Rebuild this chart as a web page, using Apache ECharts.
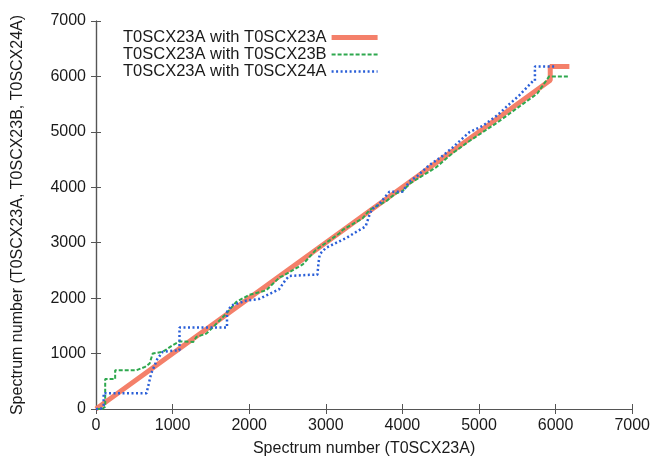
<!DOCTYPE html>
<html>
<head>
<meta charset="utf-8">
<script src="https://cdn.jsdelivr.net/npm/echarts@6/dist/echarts.min.js"></script>
<style>
html,body{margin:0;padding:0;background:#fff;}
#chart{width:653px;height:462px;}
</style>
</head>
<body>
<div id="chart"></div>
<script>
var seriesNames = ['T0SCX23A with T0SCX23A', 'T0SCX23A with T0SCX23B', 'T0SCX23A with T0SCX24A'];
var xTicks = [0, 1000, 2000, 3000, 4000, 5000, 6000, 7000];
var yTicks = [0, 1000, 2000, 3000, 4000, 5000, 6000, 7000];

var selfMatch = [[0,0],[5930,5930],[5930,6180],[6180,6180]];

var match23B = [[0,0],[80,0],[120,40],[120,540],[250,540],[250,700],[530,700],[640,760],[700,820],
  [740,1000],[870,1030],[1000,1150],[1090,1220],[1270,1210],[1310,1300],[1440,1360],[1530,1480],
  [1700,1720],[1830,1930],[2000,2060],[2220,2140],[2400,2380],[2440,2400],[2700,2610],[2870,2870],
  [3180,3170],[3220,3230],[3480,3440],[3570,3590],[3800,3760],[3900,3880],[4000,3930],[4100,4070],
  [4440,4360],[4650,4610],[4870,4830],[5240,5170],[5500,5430],[5760,5690],[5915,6000],[6180,6000]];

var match24A = [[0,0],[60,0],[100,60],[100,286],[660,286],[720,640],[800,900],[870,1030],[1000,1050],
  [1090,1060],[1090,1470],[1710,1470],[1710,1750],[1770,1870],[1960,1955],[2130,1985],[2390,2160],
  [2480,2340],[2525,2400],[2790,2420],[2890,2420],[2905,2640],[2920,2790],[3000,2905],[3265,3085],
  [3520,3295],[3570,3500],[3600,3600],[3700,3700],[3830,3920],[4000,3920],[4090,4100],[4200,4210],
  [4350,4400],[4500,4540],[4650,4710],[4870,4990],[5050,5110],[5240,5300],[5380,5480],[5520,5650],
  [5700,5910],[5730,5920],[5730,6180],[6000,6180]];

var colors = ['#f4806a', '#2ea84e', '#2a5fd8'];
var widths = [5, 2, 2.5];
var dashes = ['solid', [4,2], [2,2.5]];

var chart = echarts.init(document.getElementById('chart'), null, {renderer:'canvas'});
var FONT = '"Liberation Sans", Arial, Helvetica, sans-serif';
var axisCol = '#555';
var txtCol = '#1a1a1a';
function hiddenAxis(pos){
  return {
    type:'value', position:pos, min:0, max:7000, interval:1000,
    axisLine:{show:true, lineStyle:{color:axisCol, width:1.2}},
    axisTick:{show:true, inside:true, length:5, lineStyle:{color:axisCol}},
    axisLabel:{show:false}, splitLine:{show:false}
  };
}
var legendData = seriesNames.map(function(n, i){
  return {name:n, itemStyle:{opacity:0}, lineStyle:{color:colors[i], width:widths[i], type:dashes[i]}};
});
var dataSets = [selfMatch, match23B, match24A];
chart.setOption({
  animation:false,
  backgroundColor:'#fff',
  grid:{left:96, right:20, top:21, bottom:49, containLabel:false},
  legend:{
    orient:'vertical', left:118, top:24, align:'right', itemGap:0,
    itemWidth:46, itemHeight:17,
    itemStyle:{opacity:0},
    textStyle:{fontFamily:FONT, fontSize:16.5, color:txtCol},
    data:legendData
  },
  xAxis:[{
    type:'value', position:'bottom', min:0, max:7000, interval:1000,
    name:'Spectrum number (T0SCX23A)', nameLocation:'middle', nameGap:32,
    nameTextStyle:{fontFamily:FONT, fontSize:16, color:txtCol},
    axisLine:{show:true, lineStyle:{color:axisCol, width:1.2}},
    axisTick:{show:true, inside:true, length:5, lineStyle:{color:axisCol}},
    axisLabel:{fontFamily:FONT, fontSize:16, color:txtCol, margin:9,
      formatter:function(v){ return xTicks.indexOf(v) >= 0 ? String(v) : ''; }},
    splitLine:{show:false}
  }, hiddenAxis('top')],
  yAxis:[{
    type:'value', position:'left', min:0, max:7000, interval:1000,
    name:'Spectrum number (T0SCX23A, T0SCX23B, T0SCX24A)', nameLocation:'middle', nameGap:70,
    nameTextStyle:{fontFamily:FONT, fontSize:16, color:txtCol},
    axisLine:{show:true, lineStyle:{color:axisCol, width:1.2}},
    axisTick:{show:true, inside:true, length:5, lineStyle:{color:axisCol}},
    axisLabel:{fontFamily:FONT, fontSize:16, color:txtCol, margin:10,
      formatter:function(v){ return yTicks.indexOf(v) >= 0 ? String(v) : ''; }},
    splitLine:{show:false}
  }, hiddenAxis('right')],
  series:seriesNames.map(function(n, i){
    return {name:n, type:'line', data:dataSets[i], symbol:'none', z:2+i,
      lineStyle:{color:colors[i], width:widths[i], type:dashes[i]}, itemStyle:{color:colors[i]}};
  })
});
</script>
</body>
</html>
